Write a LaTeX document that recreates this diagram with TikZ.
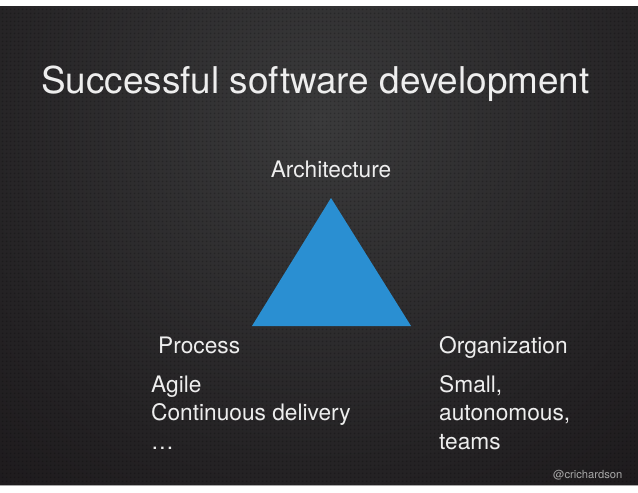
\documentclass[tikz,border=0pt]{standalone}
\usepackage{fontspec}
\setmainfont{TeX Gyre Heros}
\usetikzlibrary{patterns.meta}
\definecolor{slidetext}{HTML}{EEEEEE}
\definecolor{credit}{HTML}{A8A8A8}
\definecolor{triblue}{HTML}{2A8FD2}
\definecolor{glowc}{HTML}{3A3A3B}
\definecolor{midc}{HTML}{242224}
\definecolor{edgec}{HTML}{120D10}
\pgfdeclareradialshading{slideglow}{\pgfpoint{0bp}{0bp}}{%
  color(0bp)=(glowc); color(16bp)=(midc); color(33bp)=(edgec); color(50bp)=(edgec)}
\tikzset{
  title/.style={anchor=base west, text=slidetext, font=\fontsize{36.9}{40}\selectfont, inner sep=0pt},
  label/.style={text=slidetext, font=\fontsize{22.7}{28}\selectfont, inner sep=0pt},
  body/.style={label, anchor=base west},
  creditline/.style={anchor=base west, text=credit, font=\fontsize{11.2}{13}\selectfont, inner sep=0pt},
  tri/.style={fill=triblue},
}
\begin{document}
\begin{tikzpicture}[x=1pt,y=-1pt]
  \useasboundingbox (0,0) rectangle (638,493);
  \fill[white] (0,0) rectangle (638,493);
  % slide background: dark glow with a fine dotted texture
  \begin{scope}
    \clip (0,6.5) rectangle (638,485);
    \shade[shading=slideglow] (320,120) circle (560);
    \fill[pattern={Dots[distance=4pt,radius=1.1pt]}, pattern color=black, fill opacity=0.22]
      (0,6.5) rectangle (638,485);
  \end{scope}
  \draw[gray!70, line width=0.8pt] (0,485.4) -- (638,485.4);

  % heading
  \node[title] (heading) at (41,93) {Successful software development};

  % the triangle and its corners
  \coordinate (apex) at (331,198);
  \coordinate (bl) at (252,326);
  \coordinate (br) at (411,326);
  \fill[tri] (apex) -- (bl) -- (br) -- cycle;

  \node[label, anchor=base] (arch) at (331,177) {Architecture};
  \node[body] (proc) at (158,353) {Process};
  \node[body] (org) at (439,353) {Organization};

  % what each lower corner stands for
  \node[body] (proc1) at (151,392) {Agile};
  \node[body] (proc2) at (151,420.5) {Continuous delivery};
  \node[body] (proc3) at (151,449) {…};
  \node[body] (org1) at (439,392) {Small,};
  \node[body] (org2) at (439,420.5) {autonomous,};
  \node[body] (org3) at (439,449) {teams};

  \node[creditline] (credit) at (553,478) {@crichardson};
\end{tikzpicture}
\end{document}
